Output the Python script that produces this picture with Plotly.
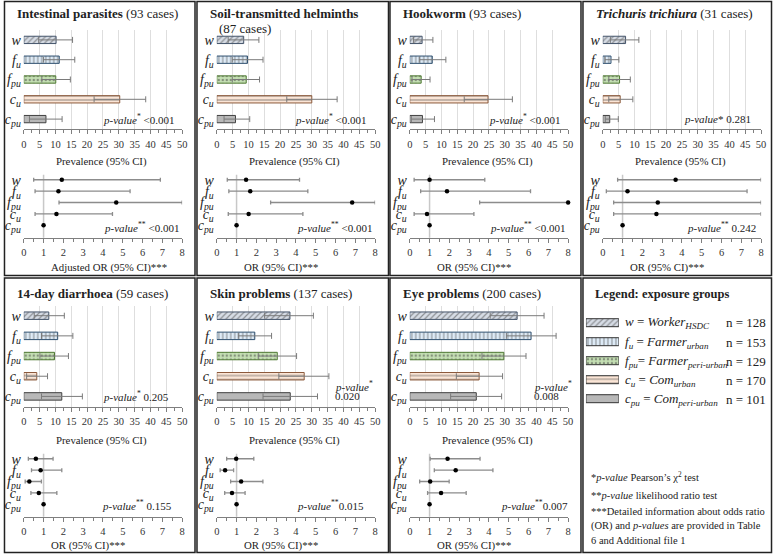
import plotly.graph_objects as go

W, H = 778, 554
FONT = "Liberation Serif"

# exposure groups (top to bottom)
groups = ["w", "f_u", "f_pu", "c_u", "c_pu"]
group_ticks = ["<i>w</i>", "<i>f<sub>u</sub></i>", "<i>f<sub>pu</sub></i>",
               "<i>c<sub>u</sub></i>", "<i>c<sub>pu</sub></i>"]
group_names = ["<i>w</i> = <i>Worker<sub>HSDC</sub></i>",
               "<i>f<sub>u</sub></i> = <i>Farmer<sub>urban</sub></i>",
               "<i>f<sub>pu</sub></i>= <i>Farmer<sub>peri-urban</sub></i>",
               "<i>c<sub>u</sub></i> = <i>Com<sub>urban</sub></i>",
               "<i>c<sub>pu</sub></i> = <i>Com<sub>peri-urban</sub></i>"]
group_n = [128, 153, 129, 170, 101]

# Intestinal parasites
ip_prev = [10.2, 11.2, 10.1, 30.3, 7.0]
ip_prev_lo = [4.7, 6.2, 5.7, 22.2, 1.8]
ip_prev_hi = [15.4, 16.1, 14.7, 38.5, 12.1]
ip_or = [1.92, 1.75, 4.67, 1.65, 1.0]
ip_or_lo = [0.5, 0.57, 1.78, 0.57, 1.0]
ip_or_hi = [6.9, 5.37, 8.0, 4.48, 1.0]

# Soil-transmitted helminths
sth_prev = [8.5, 9.7, 9.3, 30.0, 5.9]
sth_prev_lo = [3.6, 4.9, 4.9, 22.1, 2.3]
sth_prev_hi = [13.3, 14.6, 13.5, 38.0, 10.4]
sth_or = [1.48, 1.69, 6.84, 1.61, 1.0]
sth_or_lo = [0.53, 0.61, 2.72, 0.58, 1.0]
sth_or_hi = [4.18, 4.6, 8.0, 4.35, 1.0]

# Hookworm
hw_prev = [3.9, 7.1, 3.6, 24.7, 4.0]
hw_prev_lo = [1.2, 3.0, 0.7, 17.2, 0.5]
hw_prev_hi = [7.3, 11.4, 6.4, 32.4, 7.8]
hw_or = [1.0, 1.88, 8.0, 0.87, 1.0]
hw_or_lo = [0.22, 0.55, 3.53, 0.22, 1.0]
hw_or_hi = [3.79, 6.1, 8.0, 3.24, 1.0]

# Trichuris trichiura
tt_prev = [7.2, 2.6, 5.3, 5.5, 2.2]
tt_prev_lo = [2.4, 0.7, 1.9, 1.9, 0.8]
tt_prev_hi = [11.4, 5.1, 8.7, 9.5, 4.9]
tt_or = [3.68, 1.25, 2.78, 2.71, 1.0]
tt_or_lo = [0.75, 0.18, 0.55, 0.55, 1.0]
tt_or_hi = [8.0, 7.29, 8.0, 8.0, 1.0]

# 14-day diarrhoea
dia_prev = [7.9, 10.7, 9.7, 4.1, 12.0]
dia_prev_lo = [3.3, 5.6, 5.1, 0.9, 5.6]
dia_prev_hi = [12.8, 15.5, 14.1, 7.5, 18.5]
dia_or = [0.61, 0.85, 0.28, 0.76, 1.0]
dia_or_lo = [0.23, 0.39, 0.07, 0.36, 1.0]
dia_or_hi = [1.48, 1.92, 0.89, 1.67, 1.0]

# Skin problems
skin_prev = [23.1, 12.0, 19.1, 27.6, 23.2]
skin_prev_lo = [15.1, 6.8, 13.1, 19.6, 14.6]
skin_prev_hi = [30.5, 17.3, 25.2, 35.4, 31.8]
skin_or = [0.98, 0.42, 1.23, 0.77, 1.0]
skin_or_lo = [0.5, 0.17, 0.7, 0.4, 1.0]
skin_or_hi = [1.87, 0.85, 2.33, 1.43, 1.0]

# Eye problems
eye_prev = [33.9, 38.3, 29.7, 21.9, 21.0]
eye_prev_lo = [25.4, 30.5, 22.8, 14.7, 12.9]
eye_prev_hi = [42.4, 46.2, 36.7, 29.3, 29.0]
eye_or = [1.91, 2.32, 1.03, 1.58, 1.0]
eye_or_lo = [1.03, 1.24, 0.5, 0.9, 1.0]
eye_or_hi = [3.55, 4.2, 1.99, 2.85, 1.0]

fill_colors = ["#d6dce5", "#deebf7", "#c5e0b4", "#fbe5d6", "#b8b8b8"]
line_colors = ["#44546a", "#2f5070", "#4f7a33", "#8c5a3c", "#404040"]
pattern_shapes = ["/", "|", ".", "-", ""]
pattern_colors = ["#a3b1c4", "#b4d2ec", "#a9d18e", "#f8cbad", "#b8b8b8"]

panels = [
    dict(title=["<b>Intestinal parasites</b> (93 cases)"], col=0, row=0,
         prev=ip_prev, lo=ip_prev_lo, hi=ip_prev_hi, orv=ip_or, orlo=ip_or_lo, orhi=ip_or_hi,
         p1="<i>p-value</i><sup>*</sup> &lt;0.001", p2="<i>p-value</i><sup>**</sup> &lt;0.001",
         xlab="Adjusted OR (95% CI)***", p1x=176, p2x=180),
    dict(title=["<b>Soil-transmitted helminths</b>", "(87 cases)"], col=1, row=0,
         prev=sth_prev, lo=sth_prev_lo, hi=sth_prev_hi, orv=sth_or, orlo=sth_or_lo, orhi=sth_or_hi,
         p1="<i>p-value</i><sup>*</sup> &lt;0.001", p2="<i>p-value</i><sup>**</sup> &lt;0.001",
         xlab="OR (95% CI)***", p1x=175, p2x=180),
    dict(title=["<b>Hookworm</b> (93 cases)"], col=2, row=0,
         prev=hw_prev, lo=hw_prev_lo, hi=hw_prev_hi, orv=hw_or, orlo=hw_or_lo, orhi=hw_or_hi,
         p1="<i>p-value</i><sup>*</sup> &lt;0.001", p2="<i>p-value</i><sup>**</sup> &lt;0.001",
         xlab="OR (95% CI)***", p1x=176, p2x=180),
    dict(title=["<b><i>Trichuris trichiura</i></b> (31 cases)"], col=3, row=0,
         prev=tt_prev, lo=tt_prev_lo, hi=tt_prev_hi, orv=tt_or, orlo=tt_or_lo, orhi=tt_or_hi,
         p1="<i>p-value</i>* 0.281", p2="<i>p-value</i><sup>**</sup> 0.242",
         xlab="OR (95% CI)***", p1x=173, p2x=178),
    dict(title=["<b>14-day diarrhoea</b> (59 cases)"], col=0, row=1,
         prev=dia_prev, lo=dia_prev_lo, hi=dia_prev_hi, orv=dia_or, orlo=dia_or_lo, orhi=dia_or_hi,
         p1="<i>p-value</i><sup>*</sup> 0.205", p2="<i>p-value</i><sup>**</sup> 0.155",
         xlab="OR (95% CI)***", p1x=170, p2x=173),
    dict(title=["<b>Skin problems</b> (137 cases)"], col=1, row=1,
         prev=skin_prev, lo=skin_prev_lo, hi=skin_prev_hi, orv=skin_or, orlo=skin_or_lo, orhi=skin_or_hi,
         p1=["<i>p-value</i><sup>*</sup>", "0.020"], p2="<i>p-value</i><sup>**</sup>0.015",
         xlab="OR (95% CI)***", p1x=138, p2x=172),
    dict(title=["<b>Eye problems</b> (200 cases)"], col=2, row=1,
         prev=eye_prev, lo=eye_prev_lo, hi=eye_prev_hi, orv=eye_or, orlo=eye_or_lo, orhi=eye_or_hi,
         p1=["<i>p-value</i><sup>*</sup>", "0.008"], p2="<i>p-value</i><sup>**</sup>0.007",
         xlab="OR (95% CI)***", p1x=145, p2x=183),
]

COL_X = [0, 195, 390, 585]
# pixel rows: title, bar top, bar bottom, prevalence label, OR top, OR bottom, OR label
ROWS = [
    dict(title=13, btop=30, bbot=129, blab=161, otop=172, obot=237.7, olab=267, pv=119.5, opv=227),
    dict(title=293, btop=305.6, bbot=406.5, blab=440, otop=451, obot=516.7, olab=545.5, pv=396, opv=505),
]


def px(x):
    return x / W


def py(y):
    return 1 - y / H


def txt(x, y, text, size=11, anchor="left", color="#222"):
    return dict(x=px(x), y=py(y), xref="paper", yref="paper", text=text, showarrow=False,
                xanchor=anchor, yanchor="middle", font=dict(family=FONT, size=size, color=color))


fig = go.Figure()
annotations = []
shapes = []
layout = {}
pos = list(range(len(groups)))

for i, p in enumerate(panels):
    ox = COL_X[p["col"]]
    r = ROWS[p["row"]]
    nb, no = 2 * i + 1, 2 * i + 2
    xb, yb = ("x%d" % nb, "y%d" % nb)
    xo, yo = ("x%d" % no, "y%d" % no)
    dom_x = [px(ox + 21), px(ox + 181)]

    fig.add_trace(go.Bar(
        x=p["prev"], y=pos, orientation="h", width=0.37,
        marker=dict(color=fill_colors, line=dict(color=line_colors, width=1),
                    pattern=dict(shape=pattern_shapes, fgcolor=pattern_colors, size=4, solidity=0.3)),
        error_x=dict(type="data", symmetric=False,
                     array=[h - v for h, v in zip(p["hi"], p["prev"])],
                     arrayminus=[v - l for v, l in zip(p["prev"], p["lo"])],
                     color="#7a7a7a", thickness=1, width=3),
        xaxis=xb, yaxis=yb, showlegend=False, hoverinfo="skip"))

    fig.add_trace(go.Scatter(
        x=p["orv"], y=pos, mode="markers",
        marker=dict(color="black", size=4.5),
        error_x=dict(type="data", symmetric=False,
                     array=[h - v for h, v in zip(p["orhi"], p["orv"])],
                     arrayminus=[v - l for v, l in zip(p["orv"], p["orlo"])],
                     color="#8c8c8c", thickness=1.3, width=2),
        xaxis=xo, yaxis=yo, showlegend=False, hoverinfo="skip", cliponaxis=False))

    axis_common = dict(showline=True, linecolor="#7f7f7f", linewidth=1, ticks="outside",
                       ticklen=4, tickcolor="#7f7f7f", zeroline=False, fixedrange=True,
                       tickfont=dict(family=FONT, size=10.5, color="#333"), ticklabelstandoff=1)
    layout["xaxis%d" % nb] = dict(domain=dom_x, anchor=yb, range=[0, 50], dtick=5, tick0=0,
                                  showgrid=True, gridcolor="#dedede", gridwidth=1,
                                  minor=dict(dtick=2.5, ticks="outside", ticklen=3,
                                             tickcolor="#7f7f7f", showgrid=False),
                                  **axis_common)
    layout["yaxis%d" % nb] = dict(domain=[py(r["bbot"]), py(r["btop"])], anchor=xb,
                                  range=[4.5, -0.5], tickvals=pos, ticktext=group_ticks,
                                  showgrid=False, zeroline=False, showline=False, ticks="",
                                  ticklabelstandoff=2, fixedrange=True,
                                  tickfont=dict(family=FONT, size=14, color="#222"))
    layout["xaxis%d" % no] = dict(domain=dom_x, anchor=yo, range=[0, 8], dtick=1, tick0=0,
                                  showgrid=False,
                                  minor=dict(dtick=0.5, ticks="outside", ticklen=3,
                                             tickcolor="#7f7f7f", showgrid=False),
                                  **axis_common)
    layout["yaxis%d" % no] = dict(domain=[py(r["obot"]), py(r["otop"])], anchor=xo,
                                  range=[5.09, -0.68], tickvals=pos, ticktext=group_ticks,
                                  showgrid=False, zeroline=False, showline=False, ticks="",
                                  ticklabelstandoff=2, fixedrange=True,
                                  tickfont=dict(family=FONT, size=14, color="#222"))

    # reference line at OR = 1
    shapes.append(dict(type="line", xref=xo, yref=yo + " domain", x0=1, x1=1, y0=0, y1=0.96,
                       line=dict(color="#c8c8c8", width=1.5), layer="below"))

    # titles
    annotations.append(txt(ox + 12, r["title"], p["title"][0], size=13))
    if len(p["title"]) > 1:
        annotations.append(txt(ox + 21, r["title"] + 15, p["title"][1], size=13))

    annotations.append(txt(ox + 52, r["blab"], "Prevalence (95% CI)", size=10.8))
    annotations.append(txt(ox + 46, r["olab"], p["xlab"], size=10.8))

    if isinstance(p["p1"], list):
        annotations.append(txt(ox + p["p1x"], r["pv"] - 10, p["p1"][0], size=11))
        annotations.append(txt(ox + p["p1x"], r["pv"], p["p1"][1], size=11))
    else:
        annotations.append(txt(ox + p["p1x"], r["pv"], p["p1"], size=11, anchor="right"))
    annotations.append(txt(ox + p["p2x"], r["opv"], p["p2"], size=11, anchor="right"))

# legend panel swatches
fig.add_trace(go.Bar(
    x=[1 for _ in groups], y=pos, orientation="h", width=0.42,
    marker=dict(color=fill_colors, line=dict(color="#333", width=1),
                pattern=dict(shape=pattern_shapes, fgcolor=pattern_colors, size=4, solidity=0.3)),
    xaxis="x15", yaxis="y15", showlegend=False, hoverinfo="skip"))
layout["xaxis15"] = dict(domain=[px(589), px(622.3)], anchor="y15", range=[0, 1], visible=False,
                         fixedrange=True)
layout["yaxis15"] = dict(domain=[py(408.2), py(313.2)], anchor="x15", range=[4.5, -0.5],
                         visible=False, fixedrange=True)

annotations.append(txt(596, 294, "<b>Legend: exposure groups</b>", size=12.5))
leg_y = [322.7, 342, 361.3, 380, 399]
for name, n, y in zip(group_names, group_n, leg_y):
    annotations.append(txt(626.5, y, name, size=13))
    annotations.append(txt(728.3, y, "n = %d" % n, size=13))

notes = [
    (476.7, "*<i>p-value</i> Pearson’s χ<sup>2</sup> test"),
    (495, "**<i>p-value</i> likelihood ratio test"),
    (511.7, "***Detailed information about odds ratio"),
    (526, "(OR) and <i>p-values</i> are provided in Table"),
    (540, "6 and Additional file 1"),
]
for y, t in notes:
    annotations.append(txt(592, y, t, size=10.5))

# panel frames
col_edges = [(1.5, 194), (196, 389.5), (391, 584), (586, 776.5)]
row_edges = [(1.5, 275.5), (278, 552.5)]
for (y0, y1) in row_edges:
    for (x0, x1) in col_edges:
        shapes.append(dict(type="rect", xref="paper", yref="paper",
                           x0=px(x0), x1=px(x1), y0=py(y1), y1=py(y0),
                           line=dict(color="#222", width=1.5)))

fig.update_layout(
    width=W, height=H, margin=dict(l=0, r=0, t=0, b=0),
    paper_bgcolor="white", plot_bgcolor="white",
    font=dict(family=FONT, color="#222"),
    annotations=annotations, shapes=shapes, showlegend=False,
    **layout)

# page body has a default margin; drop it so the figure fills the window exactly
fig.write_html("out.html", config={"displayModeBar": False},
               post_script="document.body.style.margin='0';document.body.style.overflow='hidden';")
